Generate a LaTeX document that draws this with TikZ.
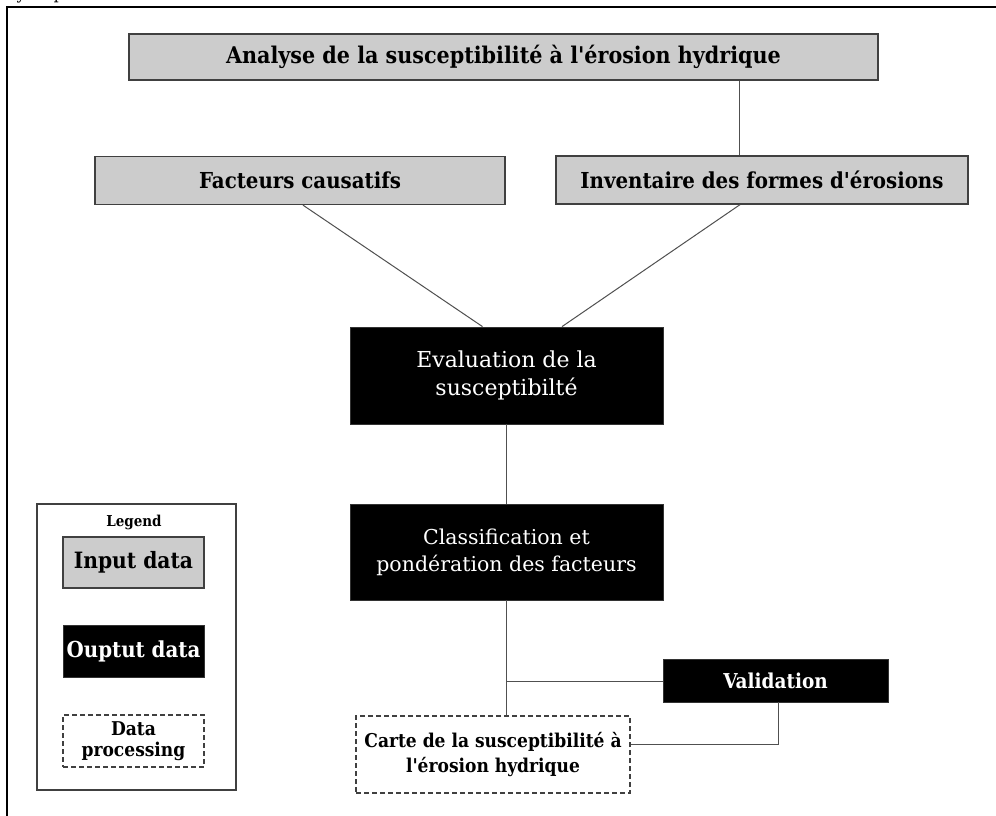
\documentclass[tikz,border=0pt]{standalone}
\usepackage{fontspec}
\setmainfont{DejaVu Serif}
\newfontfamily\headfont{DejaVu Serif Condensed}
\usetikzlibrary{calc}
\definecolor{boxgray}{HTML}{CCCCCC}
\definecolor{edgegray}{HTML}{404040}
\definecolor{linegray}{HTML}{505050}
\tikzset{
  inbox/.style={draw=edgegray, line width=1.3pt, fill=boxgray, inner sep=0pt, align=center, font=\headfont\bfseries\fontsize{22}{26}\selectfont},
  outbox/.style={draw=black!80, line width=0.8pt, fill=black, text=white, inner sep=0pt, align=center},
  procbox/.style={draw=edgegray, line width=1.2pt, dashed, dash pattern=on 5pt off 3pt, fill=white, inner sep=0pt, align=center},
  conn/.style={draw=linegray, line width=1pt},
}
\begin{document}
\begin{tikzpicture}[x=1pt,y=-1pt]
\useasboundingbox (0,0) rectangle (996,816);
\fill[white] (0,0) rectangle (996,816);
% partial caption cut at the top edge
\node[anchor=base west, inner sep=0pt, font=\fontsize{16}{19}\selectfont] (cap) at (6,-0.5) {hydrique.};
% outer frame
\draw[line width=1.6pt] (7,830) -- (7,7) -- (1010,7);

\node[inbox, minimum width=749pt, minimum height=46pt, font=\headfont\bfseries\fontsize{23}{27}\selectfont] (top) at (503.5,57) {Analyse de la susceptibilité à l'érosion hydrique};
\node[inbox, minimum width=410pt, minimum height=48pt] (fac) at (300,180.5) {Facteurs causatifs};
\node[inbox, minimum width=412pt, minimum height=48pt] (inv) at (762,180) {Inventaire des formes d'érosions};

\node[outbox, minimum width=313pt, minimum height=97pt, font=\fontsize{22}{28}\selectfont] (eval) at (506.5,375.5) {Evaluation de la\\susceptibilté};
\node[outbox, minimum width=313pt, minimum height=96pt, font=\fontsize{20.5}{27}\selectfont] (cls) at (506.5,552) {Classification et\\pondération des facteurs};
\node[outbox, minimum width=225pt, minimum height=43pt, font=\headfont\bfseries\fontsize{20.5}{24}\selectfont] (val) at (775.5,680.5) {Validation};
\node[procbox, minimum width=274pt, minimum height=77pt, font=\headfont\bfseries\fontsize{19}{25}\selectfont] (carte) at (493,754.5) {Carte de la susceptibilité à\\l'érosion hydrique};

% legend
\node[draw=edgegray, line width=1.3pt, minimum width=199pt, minimum height=286pt, inner sep=0pt] (leg) at (136.5,647) {};
\node[font=\headfont\bfseries\fontsize{15}{18}\selectfont, inner sep=0pt] (legt) at (134,522) {Legend};
\node[inbox, minimum width=141pt, minimum height=51pt, font=\headfont\bfseries\fontsize{22.5}{26}\selectfont] (lin) at (133.5,562.5) {Input data};
\node[outbox, minimum width=141pt, minimum height=52pt, font=\headfont\bfseries\fontsize{22}{26}\selectfont] (lout) at (133.5,651) {Ouptut data};
\node[procbox, minimum width=141pt, minimum height=52pt, font=\headfont\bfseries\fontsize{19}{21}\selectfont] (lproc) at (133.5,741) {Data\\processing};

% connectors
\coordinate (topdrop) at ($(top.south)+(235.5,0)$);
\coordinate (valdrop) at ($(val.south)+(2.5,0)$);
\coordinate (cartejoin) at ($(carte.east)+(0,-10)$);
\coordinate (clsjoin) at ($(cls.south |- val.west)+(0,0.5)$);
\draw[conn] (topdrop) -- (topdrop |- inv.north);
\draw[conn] ($(fac.south)+(3,0)$) -- ($(eval.north)+(-24,0)$);
\draw[conn] ($(inv.south)+(-22,0)$) -- ($(eval.north)+(55.5,0)$);
\draw[conn] (eval.south) -- (cls.north);
\draw[conn] (cls.south) -- (cls.south |- carte.north);
\draw[conn] (clsjoin) -- (clsjoin -| val.west);
\draw[conn] (valdrop) -- (valdrop |- cartejoin) -- (cartejoin);
\end{tikzpicture}
\end{document}
